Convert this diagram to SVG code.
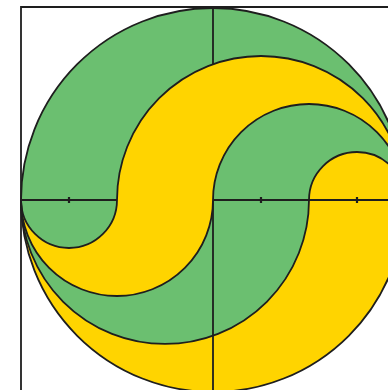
<svg xmlns="http://www.w3.org/2000/svg" width="388" height="390" viewBox="0 0 388 390">
<style>
.y{fill:#ffd400}
.g{fill:#6bbf70}
.s{fill:none;stroke:#1e1e1e;stroke-width:1.8}
.ax{stroke:#1e1e1e;stroke-width:1.8;fill:none}
.tk{stroke:#1e1e1e;stroke-width:2.2}
</style>
<rect width="388" height="390" fill="#fff"/>
<g id="disc">
<circle class="y" cx="213" cy="200" r="192"/>
<path id="greenOuter" class="g" d="M21,200 A192,192 0 0 1 405,200 A144,144 0 0 0 117,200 A48,48 0 0 1 21,200 Z"/>
<path id="greenMiddle" class="g" d="M21,200 A96,96 0 0 0 213,200 A96,96 0 0 1 405,200 A48,48 0 0 0 309,200 A144,144 0 0 1 21,200 Z"/>
</g>
<g id="axes">
<path class="ax" d="M21,390 V7 H388"/>
<path class="ax" d="M21,200 H388 M213,7 V390"/>
<path class="tk" d="M69,197 V203 M261,197 V203 M357,197 V203"/>
</g>
<g id="band">
<path class="y" d="M117,200 A144,144 0 0 1 405,200 A96,96 0 0 0 213,200 A96,96 0 0 1 21,200 A48,48 0 0 0 117,200 Z"/>
</g>
<g id="connectors">
<circle class="s" cx="213" cy="200" r="192"/>
<path class="s" d="M405,200 A144,144 0 0 0 117,200"/>
<path class="s" d="M405,200 A96,96 0 0 0 213,200"/>
<path class="s" d="M405,200 A48,48 0 0 0 309,200"/>
<path class="s" d="M21,200 A48,48 0 0 0 117,200"/>
<path class="s" d="M21,200 A96,96 0 0 0 213,200"/>
<path class="s" d="M21,200 A144,144 0 0 0 309,200"/>
</g>
</svg>
